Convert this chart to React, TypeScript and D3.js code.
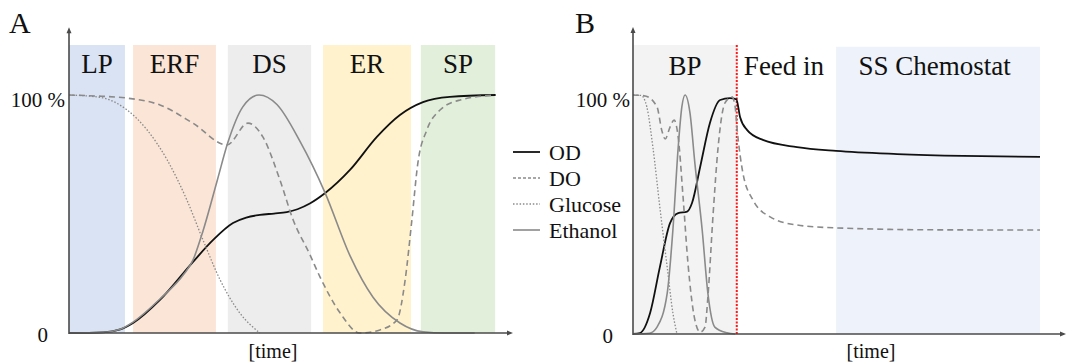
import React from "react";
import * as d3 from "d3";

// ---- panel A: batch phases ----
const phasesA = ["LP", "ERF", "DS", "ER", "SP"];
const phaseStartA = [0, 15, 37.2, 59.5, 82.4];
const phaseEndA = [13.1, 34.4, 56.7, 80.1, 99.8];
const phaseColorA = ["#dae3f3", "#fbe5d6", "#ededed", "#fff2cc", "#e2efda"];

// time (0-100), value (% of max)
const odA: [number, number][] = [
  [0, 0], [8, 0.3], [12, 1.5], [15, 4.2], [21.3, 13.9], [29, 29.8], [33.7, 39],
  [38.4, 46.2], [41.5, 48.5], [44.7, 49.6], [48, 50.2], [51, 50.8], [53.5, 52],
  [56.4, 54.4], [60, 58.8], [65.8, 68.5], [72.1, 82.4], [77.5, 91.6], [82.9, 97],
  [89.2, 99.2], [100, 100],
];
const doA: [number, number][] = [
  [0, 100], [6, 99.6], [13.6, 98.7], [21.3, 95.8], [29, 88.2], [37, 79], [41.9, 88.2],
  [45.4, 82.4], [49.4, 64.3], [52.5, 47.5], [56.4, 33], [58.8, 23.5], [63.5, 8.4],
  [68.1, 0], [72.8, 1.3], [76.8, 5.5], [78.7, 22], [80.3, 47.5], [81.7, 71.4],
  [83.8, 85.3], [86.9, 93.7], [91.6, 97.9], [100, 100],
];
const glucoseA: [number, number][] = [
  [0, 100], [7.3, 99], [13.6, 93.7], [18.3, 85.3], [23, 72.7], [27.6, 55.9],
  [31.4, 39], [35.4, 22.3], [40, 8.4], [44.7, 0],
];
const ethanolA: [number, number][] = [
  [0, 0], [8, 0.3], [12, 1.6], [15, 4.6], [21.3, 14.3], [27, 25], [29, 30.5],
  [31.4, 43], [34.7, 64], [37.2, 80], [40.7, 95], [44.5, 100], [48.7, 96], [54.1, 80.5],
  [60, 58.8], [65.8, 32.5], [71.2, 15], [77.5, 4.2], [82.9, 0.5], [88, 0], [95, 0],
];

// ---- panel B: batch + chemostat ----
const phasesB = ["BP", "Feed in", "SS Chemostat"];
const phaseStartB = [0, 25.5, 49.9];
const phaseEndB = [25.5, 49.9, 100];
const phaseLabelB = [12.8, 37.1, 74.1];
const phaseColorB = ["#f3f3f3", "none", "#eef2fa"];
const feedStartB = 25.5;

const odB: [number, number][] = [
  [0, 0], [1.7, 0.4], [4.2, 8.8], [6.6, 28], [9.1, 46.4], [11.1, 50.6], [13.3, 51.2],
  [14.5, 54.8], [16.5, 69.9], [18.9, 88.3], [21.4, 97.9], [23.8, 98.7], [25.4, 98.2],
  [26.3, 90.8], [28, 85.4], [31.9, 81.2], [40.3, 78.2], [49.9, 76.6], [64.9, 75.3],
  [81.1, 74.5], [100, 74.1],
];
const doB: [number, number][] = [
  [0, 100], [3, 99.6], [5.9, 95], [7.1, 85], [7.9, 81.6], [9.1, 86.6], [10.1, 89.5],
  [11.1, 82.4], [12.3, 57.3], [13.5, 29.7], [15.2, 5.9], [16.5, 0.8], [17.7, 2.9],
  [18.4, 15.5], [19.7, 50.6], [20.9, 78], [22.6, 96.7], [24.3, 99.2], [25.1, 95],
  [25.6, 85.4], [27, 67.4], [29.5, 56], [33.7, 49], [40.3, 45.6], [49.9, 44.4],
  [73, 43.6], [100, 43.5],
];
const glucoseB: [number, number][] = [
  [0, 100], [2, 99.8], [3.4, 95], [4.9, 78], [6.6, 53], [8.4, 28], [9.8, 8.8], [10.8, 0],
];
const ethanolB: [number, number][] = [
  [0, 0], [4, 0.3], [5.9, 2.9], [8.4, 17], [9.8, 43.5], [11.1, 78], [12, 95],
  [12.8, 100], [14, 92.5], [15.2, 71.5], [17, 43.5], [18.4, 17], [20.1, 2.9],
  [23.1, 0.5], [25.1, 0],
];

const seriesNames = ["OD", "DO", "Glucose", "Ethanol"];
const yTickValues = [0, 100];
const yTickLabels = ["0", "100 %"];
const xLabel = "[time]";

const FONT = "Liberation Serif";
const AXIS = "#4a4a4a";

const styles = [
  { stroke: "#111", width: 1.8, dash: "none" },
  { stroke: "#8a8a8a", width: 1.6, dash: "6,4" },
  { stroke: "#8a8a8a", width: 1.3, dash: "1.5,1.8" },
  { stroke: "#8a8a8a", width: 1.6, dash: "none" },
];

function Panel({
  letter, letterX, x, y, series, bands, labelAt, bandTop, axisEnd, zeroX, tickX, timeX,
  labelY, red,
}: any) {
  const line = d3
    .line<[number, number]>()
    .x((d) => x(d[0]))
    .y((d) => y(d[1]))
    .curve(d3.curveMonotoneX);
  const x0 = x.range()[0];
  const y0 = y(0);
  const yTop = y(128.5);
  return (
    <g fontFamily={FONT} fill="#111">
      <text x={letterX} y={33} fontSize={30}>{letter}</text>
      {bands.names.map((n: string, i: number) => (
        <g key={n}>
          {bands.colors[i] !== "none" && (
            <rect
              x={x(bands.start[i])}
              y={y(bandTop[i])}
              width={x(bands.end[i]) - x(bands.start[i])}
              height={y0 - y(bandTop[i])}
              fill={bands.colors[i]}
            />
          )}
          <text x={x(labelAt[i])} y={labelY} textAnchor="middle" fontSize={27}>
            {n}
          </text>
        </g>
      ))}
      {red !== undefined && (
        <line
          x1={x(red)} x2={x(red)} y1={y(bandTop[0])} y2={y0}
          stroke="#ff1a1a" strokeWidth={2} strokeDasharray="2,1.5"
        />
      )}
      {series.map((s: [number, number][], i: number) => (
        <path
          key={i}
          d={line(s) ?? ""}
          fill="none"
          stroke={styles[i].stroke}
          strokeWidth={styles[i].width}
          strokeDasharray={styles[i].dash}
        />
      ))}
      {/* axes */}
      <line x1={x0} x2={x0} y1={y0 + 1} y2={yTop + 4} stroke={AXIS} strokeWidth={1.6} />
      <path d={`M${x0 - 2.5},${yTop + 6} L${x0},${yTop} L${x0 + 2.5},${yTop + 6} Z`} fill={AXIS} />
      <line x1={x0} x2={axisEnd - 4} y1={y0} y2={y0} stroke={AXIS} strokeWidth={1.6} />
      <path d={`M${axisEnd - 6},${y0 - 2.5} L${axisEnd},${y0} L${axisEnd - 6},${y0 + 2.5} Z`} fill={AXIS} />
      {yTickValues.map((v, i) => (
        <text
          key={v}
          x={v === 0 ? zeroX : tickX}
          y={y(v) + (v === 0 ? 9 : 12)}
          textAnchor="end"
          fontSize={21}
        >
          {yTickLabels[i]}
        </text>
      ))}
      <text x={timeX} y={358} textAnchor="middle" fontSize={20}>
        {xLabel}
      </text>
    </g>
  );
}

export default function App() {
  const xA = d3.scaleLinear().domain([0, 100]).range([69, 496]);
  const yA = d3.scaleLinear().domain([0, 100]).range([333, 95]);
  const xB = d3.scaleLinear().domain([0, 100]).range([633, 1040]);
  const yB = d3.scaleLinear().domain([0, 100]).range([334, 95]);

  const legendY = d3.scalePoint<string>().domain(seriesNames).range([152, 230]);

  return (
    <svg
      width={1068}
      height={364}
      style={{ position: "absolute", left: 0, top: 0, background: "#fff" }}
    >
      <rect width={1068} height={364} fill="#fff" />
      <Panel
        letter="A"
        letterX={9}
        x={xA}
        y={yA}
        series={[odA, doA, glucoseA, ethanolA]}
        bands={{ names: phasesA, start: phaseStartA, end: phaseEndA, colors: phaseColorA }}
        labelAt={phasesA.map((_, i) => (phaseStartA[i] + phaseEndA[i]) / 2)}
        bandTop={phasesA.map(() => 121)}
        axisEnd={513}
        zeroX={48}
        tickX={65}
        timeX={273}
        labelY={73}
      />
      <Panel
        letter="B"
        letterX={575}
        x={xB}
        y={yB}
        series={[odB, doB, glucoseB, ethanolB]}
        bands={{ names: phasesB, start: phaseStartB, end: phaseEndB, colors: phaseColorB }}
        labelAt={phaseLabelB}
        bandTop={[120.9, 120.9, 120.2]}
        axisEnd={1066}
        zeroX={613}
        tickX={630}
        timeX={871}
        labelY={75}
        red={feedStartB}
      />
      <g fontFamily={FONT} fill="#111">
        {seriesNames.map((n, i) => (
          <g key={n}>
            <line
              x1={513}
              x2={540}
              y1={legendY(n)}
              y2={legendY(n)}
              stroke={styles[i].stroke}
              strokeWidth={styles[i].width}
              strokeDasharray={styles[i].dash === "6,4" ? "3,2" : styles[i].dash}
            />
            <text x={549} y={legendY(n)} dominantBaseline="central" fontSize={22}>
              {n}
            </text>
          </g>
        ))}
      </g>
    </svg>
  );
}
